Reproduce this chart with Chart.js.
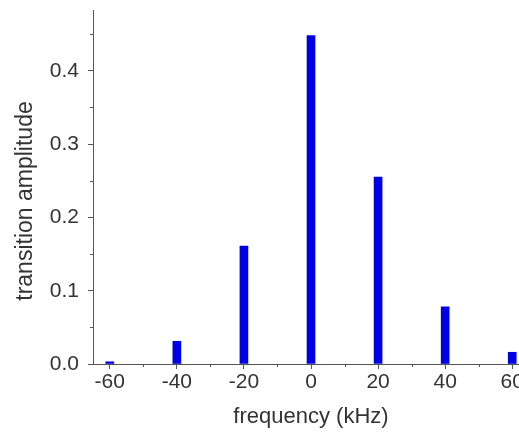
<!DOCTYPE html>
<html>
<head>
<meta charset="utf-8">
<script src="https://cdn.jsdelivr.net/npm/chart.js@4.4.1/dist/chart.umd.min.js"></script>
<style>
  html, body { margin: 0; padding: 0; background: #fff; overflow: hidden; }
  #wrap { width: 519px; height: 436px; overflow: hidden; }
</style>
</head>
<body>
<div id="wrap"><canvas id="myChart" width="530" height="436"></canvas></div>
<script>
// spectrum lines
const frequencies = [-60, -40, -20, 0, 20, 40, 60];
const amplitudes = [0.003, 0.031, 0.161, 0.448, 0.255, 0.078, 0.016];

// tick labels
const xTicks = [-60, -40, -20, 0, 20, 40, 60];
const xMinorTicks = [-50, -30, -10, 10, 30, 50];
const yTicks = [0.0, 0.1, 0.2, 0.3, 0.4];
const yMinorTicks = [0.05, 0.15, 0.25, 0.35, 0.45];

const axisColor = '#555';
const textColor = '#333';
const fontFamily = '"Liberation Sans", Arial, sans-serif';

// minor tick marks + the y title (sits a bit below the middle of the axis in the original)
const extras = {
    id: 'extras',
    afterDraw(chart) {
        const ctx = chart.ctx;
        const xs = chart.scales.x;
        const ys = chart.scales.y;
        ctx.save();
        ctx.strokeStyle = axisColor;
        ctx.lineWidth = 1;
        ctx.beginPath();
        for (let i = 0; i < xMinorTicks.length; i++) {
            const px = Math.round(xs.getPixelForValue(xMinorTicks[i])) + 0.5;
            ctx.moveTo(px, ys.bottom);
            ctx.lineTo(px, ys.bottom + 3);
        }
        for (let i = 0; i < yMinorTicks.length; i++) {
            const py = Math.round(ys.getPixelForValue(yMinorTicks[i])) + 0.5;
            ctx.moveTo(xs.left, py);
            ctx.lineTo(xs.left - 3, py);
        }
        ctx.stroke();

        ctx.translate(26, (ys.top + ys.bottom) / 2 + 14);
        ctx.rotate(-Math.PI / 2);
        ctx.fillStyle = textColor;
        ctx.font = '23px ' + fontFamily;
        ctx.textAlign = 'center';
        ctx.textBaseline = 'middle';
        ctx.fillText("transition amplitude", 0, 0);
        ctx.restore();
    }
};

new Chart("myChart", {
    type: "bar",
    data: {
        datasets: [{
            data: frequencies.map((f, i) => ({x: f, y: amplitudes[i]})),
            backgroundColor: "#0000e6",
            borderWidth: 0,
            barThickness: 8
        }]
    },
    options: {
        responsive: false,
        animation: false,
        layout: {padding: {top: 10, left: 0, right: 1, bottom: 0}},
        plugins: {
            legend: {display: false},
            tooltip: {enabled: false}
        },
        scales: {
            x: {
                type: "linear",
                offset: false,
                min: -65,
                max: 65,
                afterBuildTicks: (scale) => { scale.ticks = xTicks.map(v => ({value: v})); },
                afterFit: (scale) => {
                    scale.height = 436 - 364;
                    scale.paddingLeft = 0;
                    scale.paddingRight = 0;
                },
                grid: {offset: false, drawOnChartArea: false, drawTicks: true, tickLength: 5, color: axisColor},
                border: {color: axisColor, width: 1},
                ticks: {color: textColor, font: {family: fontFamily, size: 21}, padding: 1, maxRotation: 0},
                title: {
                    display: true,
                    text: "frequency (kHz)",
                    color: textColor,
                    font: {family: fontFamily, size: 22},
                    padding: {top: 6, bottom: 6}
                }
            },
            y: {
                min: 0,
                max: 0.483,
                afterBuildTicks: (scale) => { scale.ticks = yTicks.map(v => ({value: v})); },
                afterFit: (scale) => {
                    scale.width = 93;
                    scale.paddingTop = 0;
                    scale.paddingBottom = 0;
                },
                grid: {drawOnChartArea: false, drawTicks: true, tickLength: 5, color: axisColor},
                border: {color: axisColor, width: 1},
                ticks: {
                    color: textColor,
                    font: {family: fontFamily, size: 21},
                    padding: 9,
                    callback: (v) => Number(v).toFixed(1)
                },
                title: {display: false}
            }
        }
    },
    plugins: [extras]
});
</script>
</body>
</html>
